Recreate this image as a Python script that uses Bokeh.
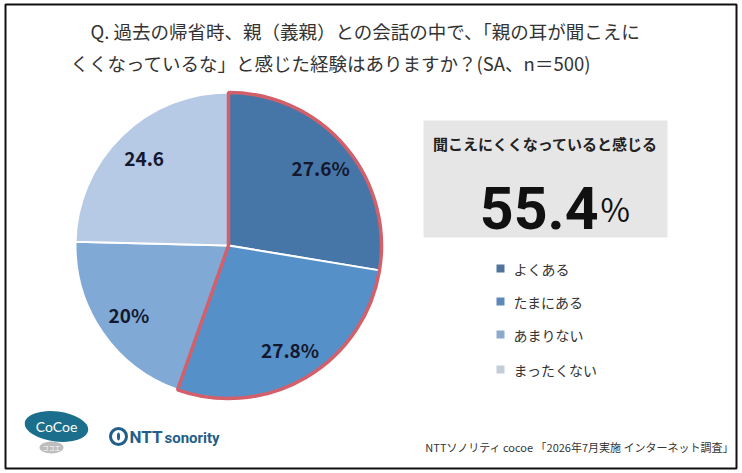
import math
from bokeh.plotting import figure
from bokeh.models import Range1d, ColumnDataSource
from bokeh.core.properties import value
from bokeh.embed import file_html
from bokeh.resources import INLINE

# Survey data
categories = ["よくある", "たまにある", "あまりない", "まったくない"]
values = [27.6, 27.8, 20, 24.6]
slice_labels = ["27.6%", "27.8%", "20%", "24.6"]
colors = ["#4676a8", "#5690c8", "#80a9d6", "#b6cae6"]
legend_colors = ["#52739a", "#5c89ba", "#8caacb", "#c2cdd9"]

title_lines = [
    "Q. 過去の帰省時、親（義親）との会話の中で、「親の耳が聞こえに",
    "くくなっているな」と感じた経験はありますか？(SA、n＝500)",
]
highlight_caption = "聞こえにくくなっていると感じる"
source_note = "NTTソノリティ cocoe 「2026年7月実施 インターネット調査」"

W, H = 742, 473
JP = value("Noto Sans CJK JP")

p = figure(width=W, height=H, x_range=Range1d(0, W), y_range=Range1d(0, H),
           output_backend="svg", toolbar_location=None, min_border=0)
p.axis.visible = False
p.grid.visible = False
p.outline_line_color = None
p.background_fill_color = "white"


def Y(y):
    return H - y


# outer frame
p.quad(left=5, right=736, top=Y(4), bottom=Y(468), fill_color=None,
       line_color="#111111", line_width=2)

# title
p.text(x=[90], y=[Y(30)], text=[title_lines[0]], text_font=JP, text_font_size="18.5px",
       text_color="#333333", text_baseline="middle", text_align="left")
p.text(x=[70], y=[Y(62)], text=[title_lines[1]], text_font=JP, text_font_size="18.5px",
       text_color="#333333", text_baseline="middle", text_align="left")

# pie
cx, cy, R = 228, Y(245), 153
total = sum(values)
cum = 0.0
starts, ends, lx, ly = [], [], [], []
for v in values:
    a0 = math.pi / 2 - 2 * math.pi * cum / total
    a1 = math.pi / 2 - 2 * math.pi * (cum + v) / total
    mid = (a0 + a1) / 2
    starts.append(a1)
    ends.append(a0)
    lx.append(cx + 0.79 * R * math.cos(mid))
    ly.append(cy + 0.79 * R * math.sin(mid))
    cum += v

src = ColumnDataSource(dict(start=starts, end=ends, color=colors, cat=categories))
p.wedge(x=cx, y=cy, radius=R, start_angle="start", end_angle="end", fill_color="color",
        line_color="white", line_width=2, source=src)

# outline on the combined "hard to hear" share
share = values[0] + values[1]
p.wedge(x=cx, y=cy, radius=R, start_angle=math.pi / 2 - 2 * math.pi * share / total,
        end_angle=math.pi / 2, fill_color=None, line_color="#d25f6a", line_width=3.5)

p.text(x=lx, y=ly, text=slice_labels, text_font=JP, text_font_size="19px",
       text_font_style="bold", text_color="#14182e", text_align="center",
       text_baseline="middle")

# highlight box
p.quad(left=423, right=667, top=Y(120), bottom=Y(237), fill_color="#e6e6e6", line_color=None)
p.text(x=[545], y=[Y(143)], text=[highlight_caption], text_font=JP, text_font_size="15px",
       text_font_style="bold", text_color="#222222", text_align="center", text_baseline="middle")
p.text(x=[598], y=[Y(207)], text=[f"{share:.1f}"], text_font=value("Roboto"),
       text_font_size="59px", text_font_style="bold", text_color="#111111",
       text_align="right", text_baseline="alphabetic")
p.text(x=[600], y=[Y(207)], text=["%"], text_font=JP, text_font_size="32px",
       text_color="#111111", text_align="left", text_baseline="alphabetic")

# legend
leg_y = [Y(268), Y(301), Y(334), Y(369)]
p.rect(x=[500] * 4, y=leg_y, width=8, height=8, fill_color=legend_colors, line_color=None)
p.text(x=[513] * 4, y=leg_y, text=categories, text_font=JP, text_font_size="14px",
       text_color="#333333", text_align="left", text_baseline="middle")

# logos
p.ellipse(x=[56], y=[Y(426)], width=64, height=30, fill_color="#1c6f8c", line_color=None,
          angle=-0.12)
p.text(x=[56], y=[Y(426)], text=["CoCoe"], text_font=value("Lato"), text_font_size="14px",
       text_color="white", text_align="center", text_baseline="middle")
p.ellipse(x=[51], y=[Y(447)], width=24, height=12, fill_color="#bdbdbd", line_color=None)
p.text(x=[51], y=[Y(447)], text=["ココエ"], text_font=JP, text_font_size="6px",
       text_color="white", text_align="center", text_baseline="middle")
p.circle(x=[118], y=[Y(436)], radius=8, fill_color=None, line_color="#1f5f8a", line_width=3)
p.ellipse(x=[118], y=[Y(436)], width=3, height=8, fill_color="#1f5f8a", line_color=None)
p.text(x=[129], y=[Y(436)], text=["NTT"], text_font=value("Roboto"), text_font_size="17px",
       text_font_style="bold", text_color="#1f5f8a", text_align="left", text_baseline="middle")
p.text(x=[164], y=[Y(437)], text=["sonority"], text_font=value("Roboto"), text_font_size="15px",
       text_font_style="bold", text_color="#1f5f8a", text_align="left", text_baseline="middle")

# source note
p.text(x=[734], y=[Y(446)], text=[source_note], text_font=JP, text_font_size="11px",
       text_color="#333333", text_align="right", text_baseline="middle")

open("out.html", "w").write(file_html(p, INLINE))
